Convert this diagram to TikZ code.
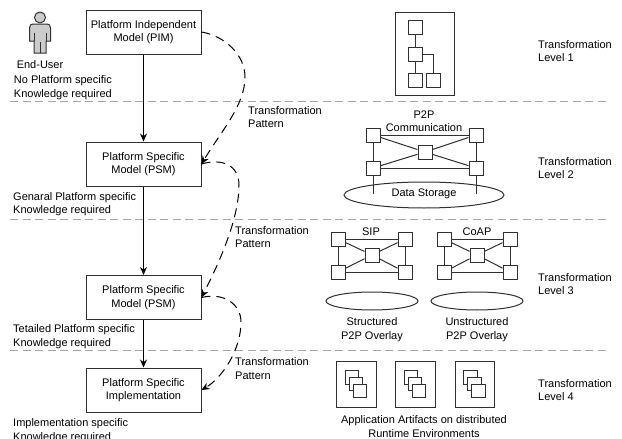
\documentclass[tikz,border=0pt]{standalone}
\usepackage{fontspec}
\setmainfont{Liberation Sans}
\usetikzlibrary{arrows.meta,shapes.geometric}
\definecolor{ink}{HTML}{303030}
\tikzset{
  x=1pt,y=-1pt,
  bigbox/.style={draw=ink,line width=1pt,fill=white,minimum width=115pt,minimum height=44pt,inner sep=0pt,align=center,font=\fontsize{11}{13.5}\selectfont},
  envbox/.style={draw=ink,line width=1pt,fill=white,inner sep=0pt},
  sq/.style={draw=ink,line width=1pt,fill=white,minimum size=14pt,inner sep=0pt},
  link/.style={draw=ink,line width=1pt},
  oval/.style={draw=ink,line width=1pt,ellipse,inner sep=0pt},
  lbl/.style={inner sep=0pt,align=left,anchor=west,font=\fontsize{11}{13.5}\selectfont},
  ctr/.style={inner sep=0pt,align=center,font=\fontsize{11}{13.5}\selectfont},
  levelline/.style={draw=black!35,line width=1pt,dash pattern=on 8pt off 4.5pt},
  flow/.style={draw=black,line width=1pt,-{Stealth[length=8pt,width=7pt]}},
  pattern/.style={draw=black,line width=1pt,dash pattern=on 9pt off 6pt,-{Stealth[length=8pt,width=7pt]}},
}
\begin{document}
\begin{tikzpicture}
\useasboundingbox (0,0) rectangle (622,439);
% level separators
\coordinate (l1a) at (10,101); \coordinate (l1b) at (608,101);
\coordinate (l2a) at (10,219); \coordinate (l2b) at (608,219);
\coordinate (l3a) at (10,350); \coordinate (l3b) at (608,350);
\draw[levelline] (l1a) -- (l1b);
\draw[levelline] (l2a) -- (l2b);
\draw[levelline] (l3a) -- (l3b);
% actor
\draw[ink,line width=1pt,fill=black!20] (29.5,41) -- (29.5,28) .. controls (29.5,25) and (31,24) .. (33,24) -- (47,24) .. controls (49,24) and (50.5,25) .. (50.5,28) -- (50.5,41) -- (46,41) -- (46,53) -- (34,53) -- (34,41) -- cycle;
\draw[ink,line width=.8pt] (34,33) -- (34,41) (46,33) -- (46,41) (40,42) -- (40,53);
\draw[ink,line width=1pt,fill=black!20] (40,17.5) circle (5.5);
\node[ctr] (enduser) at (40,65) {End-User};
% main boxes
\node[bigbox] (pim) at (143.5,32) {Platform Independent\\Model (PIM)};
\node[bigbox] (psma) at (143.5,164) {Platform Specific\\Model (PSM)};
\node[bigbox] (psmb) at (143.5,297.5) {Platform Specific\\Model (PSM)};
\node[bigbox] (impl) at (143.5,390) {Platform Specific\\Implementation};
\draw[flow] (pim) -- (psma);
\draw[flow] (psma) -- (psmb);
\draw[flow] (psmb) -- (impl);
\draw[pattern] (pim.east) .. controls (225,36) and (245,55) .. (245,77) .. controls (245,105) and (222,130) .. (psma.east);
\draw[pattern] (psma.east) .. controls (222,158) and (239,165) .. (239,185) .. controls (239,220) and (218,265) .. (psmb.east);
\draw[pattern] (psmb.east) .. controls (225,292) and (241,305) .. (241,322) .. controls (241,350) and (222,378) .. (impl.east);
% left notes
\node[lbl,align=right,anchor=east] (n1) at (112,87.5) {No Platform specific\\Knowledge required};
\node[lbl] (n2) at (13,204) {Genaral Platform specific\\Knowledge required};
\node[lbl] (n3) at (13,336.5) {Tetailed Platform specific\\Knowledge required};
\node[lbl] (n4) at (13,430.5) {Implementation specific\\Knowledge required};
\node[lbl] (tp1) at (248,117) {Transformation\\Pattern};
\node[lbl] (tp2) at (235,237) {Transformation\\Pattern};
\node[lbl] (tp3) at (235,368.5) {Transformation\\Pattern};
% right labels
\node[lbl] (t1) at (538,51) {Transformation\\Level 1};
\node[lbl] (t2) at (538,168) {Transformation\\Level 2};
\node[lbl] (t3) at (538,284) {Transformation\\Level 3};
\node[lbl] (t4) at (538,390) {Transformation\\Level 4};
% level 1 icon
\node[envbox,minimum width=59pt,minimum height=83pt] (env) at (424.5,53.5) {};
\node[sq] (a1) at (415,27.5) {};
\node[sq] (a2) at (415,54) {};
\node[sq] (a3) at (415,80) {};
\node[sq] (a4) at (433,80) {};
\draw[link] (a1) -- (a2);
\draw[link] (a2) -- (a3);
\draw[link] (a2.east) -| (a4.north);
% level 2 icon
\node[ctr] (p2p) at (424,121) {P2P\\Communication};
\node[sq] (b1) at (373,135) {};
\node[sq] (b2) at (476,135) {};
\node[sq] (b3) at (425,152) {};
\node[sq] (b4) at (373,168) {};
\node[sq] (b5) at (476,168) {};
\node[oval,minimum width=160pt,minimum height=26pt] (store) at (424,195) {};
\node[ctr] (storetext) at (424,194) {Data Storage};
\coordinate (b4d) at (373,194);
\coordinate (b5d) at (476,194);
\draw[link] (b1) -- (b2);
\draw[link] (b4) -- (b5);
\draw[link] (b1) -- (b3);
\draw[link] (b2) -- (b3);
\draw[link] (b4) -- (b3);
\draw[link] (b5) -- (b3);
\draw[link] (b1) -- (b4);
\draw[link] (b2) -- (b5);
\draw[link] (b4) -- (b4d);
\draw[link] (b5) -- (b5d);
% level 3 icons
\node[ctr] (sip) at (371,231.5) {SIP};
\node[sq] (c1) at (338,239) {};
\node[sq] (c2) at (405,239) {};
\node[sq] (c3) at (372,255) {};
\node[sq] (c4) at (338,272) {};
\node[sq] (c5) at (405,272) {};
\draw[link] (c1) -- (c2);
\draw[link] (c4) -- (c5);
\draw[link] (c1) -- (c4);
\draw[link] (c2) -- (c5);
\draw[link] (c1) -- (c3);
\draw[link] (c2) -- (c3);
\draw[link] (c4) -- (c3);
\draw[link] (c5) -- (c3);
\node[ctr] (coap) at (477,231.5) {CoAP};
\node[sq] (d1) at (444,239) {};
\node[sq] (d2) at (510,239) {};
\node[sq] (d3) at (477,255) {};
\node[sq] (d4) at (444,272) {};
\node[sq] (d5) at (510,272) {};
\draw[link] (d1) -- (d2);
\draw[link] (d4) -- (d5);
\draw[link] (d1) -- (d4);
\draw[link] (d2) -- (d5);
\draw[link] (d1) -- (d3);
\draw[link] (d2) -- (d3);
\draw[link] (d4) -- (d3);
\draw[link] (d5) -- (d3);
\node[oval,minimum width=92pt,minimum height=18pt] (ov1) at (372,301) {};
\node[oval,minimum width=92pt,minimum height=18pt] (ov2) at (477,301) {};
\node[ctr] (ovt1) at (372,329.5) {Structured\\P2P Overlay};
\node[ctr] (ovt2) at (477,329.5) {Unstructured\\P2P Overlay};
% level 4 icons
\foreach \n/\cx in {e/356.5,f/415.5,g/475}{
  \node[envbox,minimum width=39.5pt,minimum height=46pt] (\n) at (\cx,384) {};
  \node[sq,minimum size=13.5pt] (\n1) at (\cx-4.5,377.5) {};
  \node[sq,minimum size=13.5pt] (\n2) at (\cx-0.5,384) {};
  \node[sq,minimum size=13.5pt] (\n3) at (\cx+3.5,391) {};
}
\node[ctr] (apps) at (424,426.5) {Application Artifacts on distributed\\Runtime Environments};
\end{tikzpicture}
\end{document}
